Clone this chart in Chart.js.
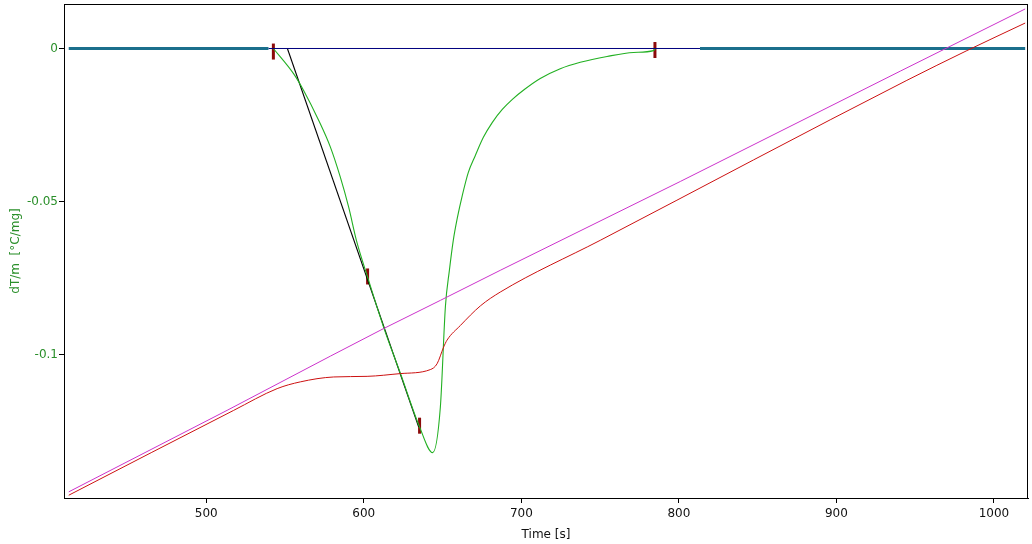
<!DOCTYPE html>
<html lang="en">
<head>
  <meta charset="UTF-8">
  <title>dT/m vs Time</title>
  <style>
    * { margin: 0; padding: 0; box-sizing: border-box; }
    body { background: #fff; width: 1032px; height: 544px; overflow: hidden; }
    #wrap { width: 1032px; height: 544px; }
  </style>
</head>
<body>
  <div id="wrap"><canvas id="chart" width="1032" height="544"></canvas></div>

  <script src="https://cdn.jsdelivr.net/npm/chart.js@4.4.1/dist/chart.umd.min.js"></script>
  <script>
    // ticks
    const xTicks = [500, 600, 700, 800, 900, 1000];
    const yTicks = [0, -0.05, -0.1];

    // DSC signal (green)
    const dscTime = [542.6, 555.5, 561.8, 571.4, 578.8, 585.1, 590.4, 595.3, 602.4, 612.6, 623.2, 635.4, 643.7,
      648.6, 651.8, 654.3, 656.8, 659.4, 662.5, 666.3, 670.8, 675.9, 681.6, 687.9, 694.3, 701.9, 712.0, 724.7, 737.4, 754.4, 771.2, 783.9, 785.0];
    const dscValue = [0, -0.0083, -0.0137, -0.0235, -0.0322, -0.0420, -0.0518, -0.0626, -0.0746, -0.0910, -0.1060, -0.1235, -0.1319,
      -0.1170, -0.0842, -0.0725, -0.0626, -0.0552, -0.0480, -0.0405, -0.0349, -0.0290, -0.0241, -0.0199, -0.0166, -0.0134, -0.0098, -0.0066, -0.0045, -0.0026, -0.0013, -0.0007, 0];

    // baseline pieces
    const outerTime = [412.7, 539.5, null, 813.4, 1019.8];
    const outerValue = [0, 0, null, 0, 0];
    const baseTime = [539.5, 813.4];
    const baseValue = [0, 0];

    // onset tangent
    const tangentTime = [551.5, 634.8];
    const tangentValue = [0, -0.1235];

    // reference temperature (magenta), plotted on the dT/m scale
    const refTime = [412.7, 513.2, 578.8, 612.6, 648.6, 686.6, 800.9, 940.5, 1019.8];
    const refValue = [-0.1447, -0.1181, -0.1004, -0.0914, -0.0822, -0.0724, -0.0434, -0.0074, 0.0129];

    // sample temperature (red), plotted on the dT/m scale
    const sampleTime = [412.7, 517.4, 545.0, 559.7, 580.9, 602.1, 623.2, 642.2, 646.5, 650.7, 652.8, 661.3, 674.0, 686.6, 750.1, 944.7, 982.8, 1019.8];
    const sampleValue = [-0.1458, -0.1181, -0.1110, -0.1088, -0.1072, -0.1070, -0.1061, -0.1048, -0.1029, -0.0974, -0.0952, -0.0904, -0.0840, -0.0795, -0.0626, -0.0104, -0.0007, 0.0083];

    // evaluation markers
    const markTime = [542.6, 602.4, 635.4, 784.8];
    const markValue = [-0.001, -0.0744, -0.1231, -0.0005];

    const zip = (xs, ys) => xs.map((x, i) => ({x: x, y: ys[i]}));
    const green = '#2a8f2a';

    const frameBox = {
      id: 'frameBox',
      afterDraw(chart) {
        const a = chart.chartArea, c = chart.ctx;
        c.save();
        c.strokeStyle = '#000';
        c.lineWidth = 1;
        c.strokeRect(Math.round(a.left) + 0.5, Math.round(a.top) + 0.5, Math.round(a.right - a.left) - 1, Math.round(a.bottom - a.top));
        c.restore();
      }
    };

    const line = (data, color, width, extra) => Object.assign({
      data: data, borderColor: color, borderWidth: width, pointRadius: 0,
      fill: false, tension: 0, spanGaps: false
    }, extra || {});

    const noPad = s => { s.paddingTop = 0; s.paddingBottom = 0; s.paddingLeft = 0; s.paddingRight = 0; };

    new Chart(document.getElementById('chart'), {
      type: 'line',
      data: {
        datasets: [
          line(zip(refTime, refValue), '#cc33cc', 1),
          line(zip(sampleTime, sampleValue), '#cc1111', 1, {cubicInterpolationMode: 'monotone'}),
          line(zip(outerTime, outerValue), '#1b6f8c', 3),
          line(zip(baseTime, baseValue), '#00007f', 1),
          line(zip(dscTime, dscValue), '#22b022', 1.1, {cubicInterpolationMode: 'monotone'}),
          line(zip(tangentTime, tangentValue), '#000', 1.1),
          {
            type: 'scatter', data: zip(markTime, markValue), showLine: false,
            pointStyle: 'line', rotation: 90, pointRadius: 8, pointBorderWidth: 3,
            pointBorderColor: '#8b0a0a', pointBackgroundColor: '#8b0a0a', pointHoverRadius: 8
          }
        ]
      },
      options: {
        responsive: false,
        animation: false,
        layout: {autoPadding: false, padding: {left: 0, top: 4, right: 4, bottom: 0}},
        plugins: {legend: {display: false}, tooltip: {enabled: false}},
        scales: {
          x: {
            type: 'linear', min: 409.7, max: 1021.6,
            afterBuildTicks: s => { s.ticks = xTicks.map(v => ({value: v})); },
            afterFit: s => { s.height = 46; noPad(s); },
            grid: {display: true, drawOnChartArea: false, tickLength: 5, tickColor: '#000'},
            border: {display: true, color: '#000'},
            ticks: {color: '#111', font: {family: 'DejaVu Sans', size: 12}, padding: 4, maxRotation: 0, callback: v => String(v)},
            title: {display: true, text: 'Time [s]', color: '#111', font: {family: 'DejaVu Sans', size: 12}, padding: {top: 3, bottom: 2}}
          },
          y: {
            min: -0.1467, max: 0.01452,
            afterBuildTicks: s => { s.ticks = yTicks.map(v => ({value: v})); },
            afterFit: s => { s.width = 64; noPad(s); },
            grid: {display: true, drawOnChartArea: false, tickLength: 5, tickColor: '#000'},
            border: {display: true, color: '#000'},
            ticks: {color: green, font: {family: 'DejaVu Sans', size: 12}, padding: 1, callback: v => String(v)},
            title: {display: true, text: 'dT/m  [°C/mg]', color: green, font: {family: 'DejaVu Sans', size: 12}, padding: {top: 9, bottom: 4}}
          }
        }
      },
      plugins: [frameBox]
    });
  </script>
</body>
</html>
